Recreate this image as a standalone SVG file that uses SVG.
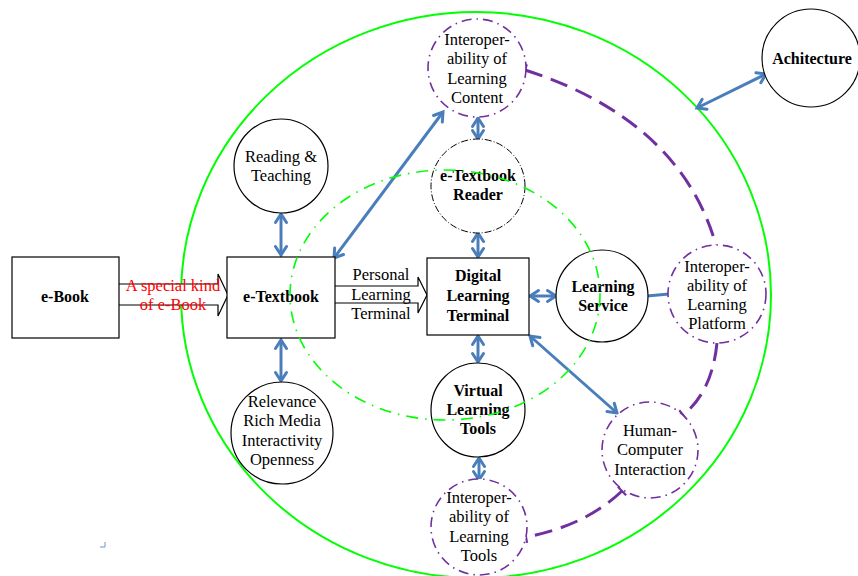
<svg xmlns="http://www.w3.org/2000/svg" width="858" height="576" viewBox="0 0 858 576">
<defs>
<marker id="ah" markerUnits="userSpaceOnUse" markerWidth="20" markerHeight="20" refX="0" refY="0" viewBox="-12 -10 14 20" orient="auto-start-reverse" overflow="visible">
<path d="M-8.5,-5.5 L0,0 L-8.5,5.5" fill="none" stroke="#4a7ebb" stroke-width="3" stroke-linecap="round" stroke-linejoin="miter"/>
</marker>
<marker id="tick" markerUnits="userSpaceOnUse" markerWidth="10" markerHeight="14" viewBox="-2 -7 4 14" refX="0" refY="0" orient="auto" overflow="visible">
<path d="M0,-6 L0,6" stroke="#7030a0" stroke-width="2.2"/>
</marker>
</defs>
<style>
text{font-family:'Liberation Serif','Times New Roman',serif;font-size:16.5px;fill:#000;text-anchor:middle}
.b{font-weight:bold;font-size:16px}
.red{fill:#ff0000}
.box{fill:#fff;stroke:#000;stroke-width:1.2}
.sc{fill:#fff;stroke:#000;stroke-width:1.2}
.dc{fill:#fff;stroke:#000;stroke-width:1;stroke-dasharray:7 2 1 2}
.pc{fill:#fff;stroke:#7030a0;stroke-width:1.6;stroke-dasharray:10 5 1.5 5}
.con{fill:none;stroke:#4a7ebb;stroke-width:3}
.dbl{marker-start:url(#ah);marker-end:url(#ah)}
.pd{fill:none;stroke:#7030a0;stroke-width:3;stroke-dasharray:18 9}
.hol{fill:#fff;stroke:#000;stroke-width:1.2;stroke-linejoin:miter}
</style>
<rect width="858" height="576" fill="#fff"/>
<g id="outer-ellipse">
<ellipse cx="476" cy="295" rx="295" ry="283" fill="none" stroke="#00ff00" stroke-width="2"/>
</g>
<g id="connectors">
<line class="con dbl" x1="281" y1="255" x2="281" y2="214"/>
<line class="con dbl" x1="281" y1="340" x2="281" y2="381"/>
<line class="con dbl" x1="334" y1="258" x2="443" y2="112"/>
<line class="con dbl" x1="478" y1="118" x2="478" y2="139"/>
<line class="con dbl" x1="478" y1="233" x2="478" y2="257"/>
<line class="con dbl" x1="478" y1="336" x2="478" y2="362"/>
<line class="con dbl" x1="479" y1="458" x2="479" y2="480"/>
<line class="con dbl" x1="530" y1="296" x2="556" y2="296"/>
<line class="con dbl" x1="530" y1="336" x2="617" y2="413"/>
<line class="con" x1="647" y1="296" x2="669" y2="294"/>
<line class="con dbl" x1="697" y1="108" x2="766" y2="74"/>
<path class="pd" d="M525,70 Q680,120 716,245" marker-start="url(#tick)"/>
<path class="pd" d="M717,343 Q712,392 683,415" marker-end="url(#tick)"/>
<path class="pd" d="M622,491 Q585,526 526,537" marker-start="url(#tick)" marker-end="url(#tick)"/>
<path d="M119,284 H218 V274 L228,295 L218,316 V305 H119" class="hol"/>
<path d="M335,286 H418 V277 L427,295 L418,313 V303 H335" class="hol"/>
</g>
<g id="ebook">
<rect class="box" x="12" y="257" width="107" height="81"/>
<text class="b" x="65" y="302">e-Book</text>
</g>
<g id="etextbook">
<rect class="box" x="227" y="257" width="108" height="81"/>
<text class="b" x="281" y="302">e-Textbook</text>
</g>
<g id="dlt">
<rect class="box" x="427" y="258" width="102" height="77"/>
<text class="b" x="478" y="281">Digital</text>
<text class="b" x="478" y="301">Learning</text>
<text class="b" x="478" y="321">Terminal</text>
</g>
<g id="reading">
<circle class="sc" cx="281" cy="166" r="47"/>
<text x="281" y="162">Reading &amp;</text>
<text x="281" y="181">Teaching</text>
</g>
<g id="relevance">
<circle class="sc" cx="282" cy="433" r="51"/>
<text x="282" y="407">Relevance</text>
<text x="282" y="426">Rich Media</text>
<text x="282" y="446">Interactivity</text>
<text x="282" y="465">Openness</text>
</g>
<g id="ilc">
<circle class="pc" cx="477" cy="68" r="49"/>
<text x="477" y="45">Interoper-</text>
<text x="477" y="64">ability of</text>
<text x="477" y="84">Learning</text>
<text x="477" y="103">Content</text>
</g>
<g id="achitecture">
<circle class="sc" cx="811" cy="58" r="49"/>
<text class="b" x="812" y="64">Achitecture</text>
</g>
<g id="reader">
<circle class="dc" cx="478" cy="186" r="47"/>
<text class="b" x="478" y="181">e-Textbook</text>
<text class="b" x="478" y="200">Reader</text>
</g>
<g id="service">
<circle class="sc" cx="602" cy="296" r="46"/>
<text class="b" x="603" y="292">Learning</text>
<text class="b" x="603" y="311">Service</text>
</g>
<g id="ilp">
<circle class="pc" cx="717" cy="294" r="49"/>
<text x="717" y="272">Interoper-</text>
<text x="717" y="291">ability of</text>
<text x="717" y="310">Learning</text>
<text x="717" y="329">Platform</text>
</g>
<g id="vlt">
<circle class="sc" cx="478" cy="410" r="47"/>
<text class="b" x="478" y="396">Virtual</text>
<text class="b" x="478" y="415">Learning</text>
<text class="b" x="478" y="434">Tools</text>
</g>
<g id="hci">
<circle class="pc" cx="650" cy="450" r="48"/>
<text x="650" y="436">Human-</text>
<text x="650" y="455">Computer</text>
<text x="650" y="475">Interaction</text>
</g>
<g id="ilt">
<circle class="pc" cx="479" cy="527" r="48"/>
<text x="479" y="503">Interoper-</text>
<text x="479" y="522">ability of</text>
<text x="479" y="542">Learning</text>
<text x="479" y="561">Tools</text>
</g>
<g id="inner-ellipse">
<ellipse cx="445" cy="295" rx="155" ry="125" fill="none" stroke="#00ff00" stroke-width="1.6" stroke-dasharray="12 7 1.5 7"/>
</g>
<g id="label-special">
<text class="red" x="173" y="291">A special kind</text>
<text class="red" x="173" y="310">of e-Book</text>
</g>
<g id="label-plt">
<text x="381" y="280">Personal</text>
<text x="381" y="300">Learning</text>
<text x="381" y="319">Terminal</text>
</g>
<path d="M100,547 H105 V542" fill="none" stroke="#6a93d0" stroke-width="1"/>
</svg>
